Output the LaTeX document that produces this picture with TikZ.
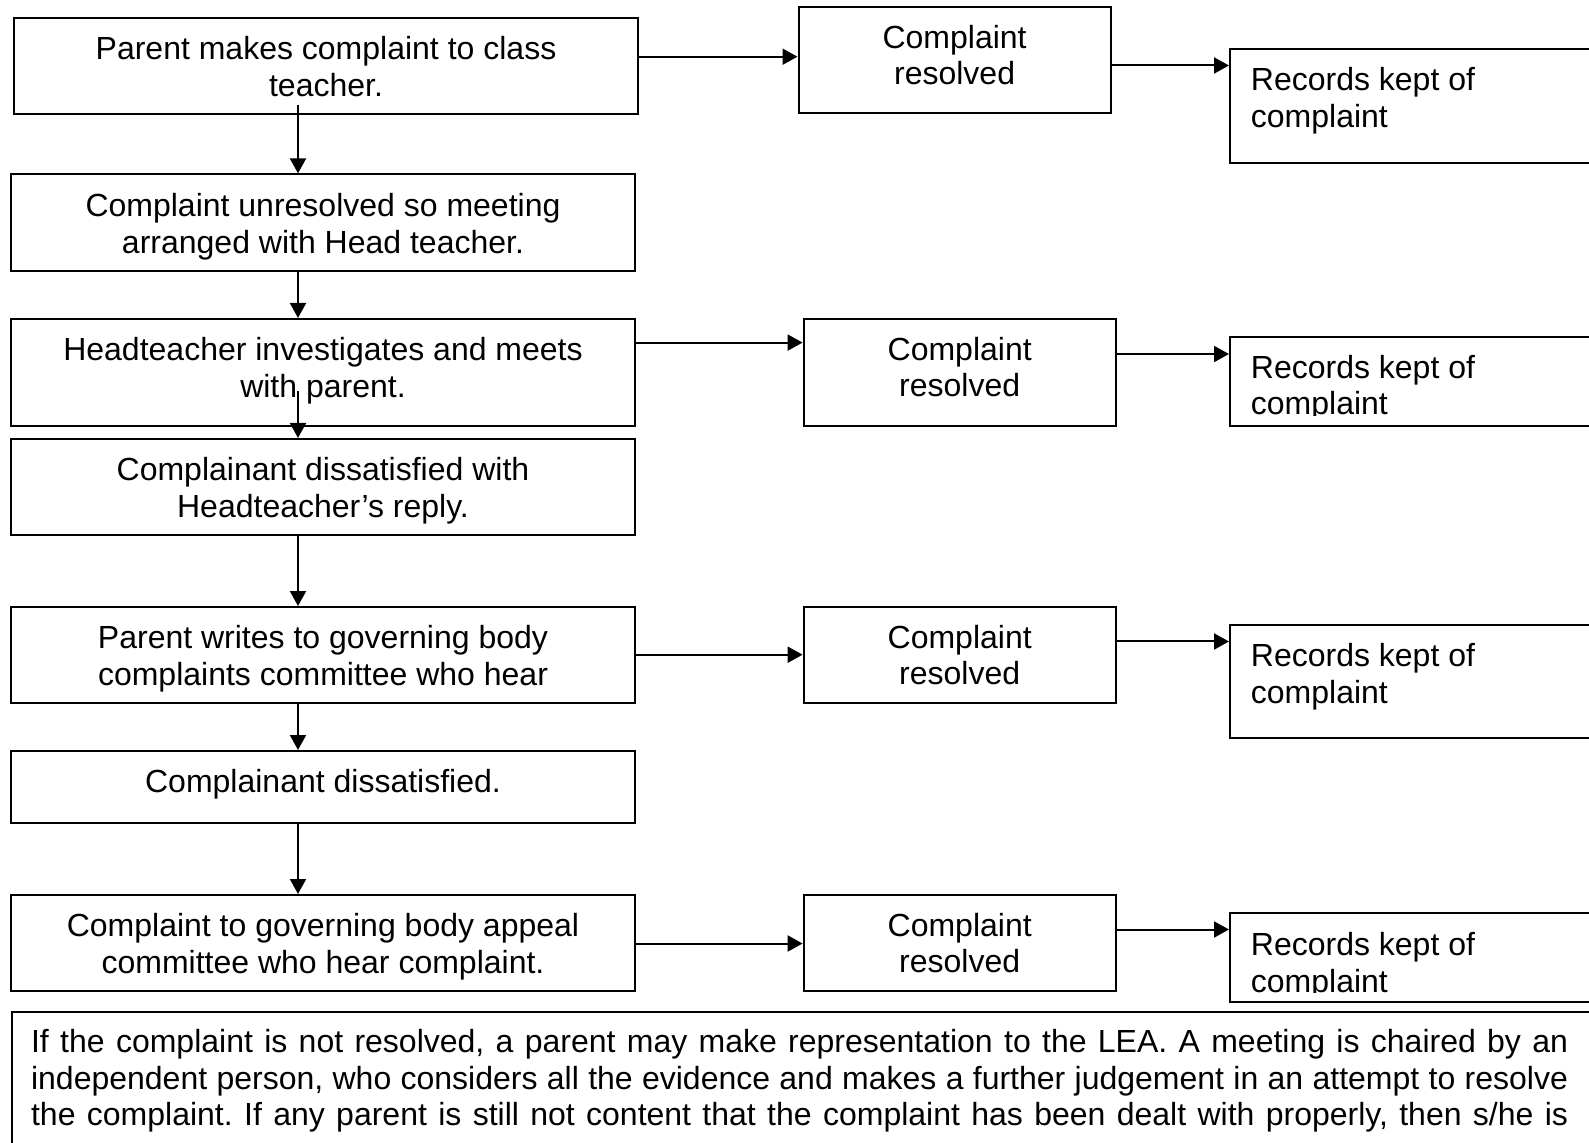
\documentclass[tikz,border=0pt]{standalone}
\usepackage{fontspec}
\setmainfont{Liberation Sans}
\usetikzlibrary{arrows.meta,calc}
\begin{document}
\frenchspacing
\begin{tikzpicture}[x=0.5pt,y=-0.5pt,
  every node/.style={font=\fontsize{16pt}{18.35pt}\selectfont\frenchspacing},
  box/.style={draw, line width=1pt, inner sep=0pt, minimum width=312pt},
  crbox/.style={draw, line width=1pt, inner sep=0pt, minimum width=156.1pt},
  rkbox/.style={draw, line width=1pt, inner sep=0pt, minimum width=185pt},
  txt/.style={inner sep=0pt, anchor=north, align=center},
  rktxt/.style={inner sep=0pt, anchor=north west, align=left},
  arr/.style={line width=1pt, -{Triangle[length=7.5pt,width=8pt]}}
]
\clip (0,0) rectangle (1589,1143);
\fill[white] (0,0) rectangle (1589,1143);

% left column
\node[box, minimum height=47.85pt] (b1) at (326,66.2) {};
\node[box, minimum height=48.15pt] (b2) at (323,222.5) {};
\node[box, minimum height=53.5pt]  (b3) at (323,372.5) {};
\node[box, minimum height=48pt]    (b4) at (323,487) {};
\node[box, minimum height=48.15pt] (b5) at (323,655.2) {};
\node[box, minimum height=36pt]    (b6) at (323,787) {};
\node[box, minimum height=48pt]    (b7) at (323,943) {};

\node[txt] (b1t) at ($(b1.north)+(0,19)$) {Parent makes complaint to class\\teacher.};
\node[txt] (b2t) at ($(b2.north)+(0,19.5)$) {Complaint unresolved so meeting\\arranged with Head teacher.};
\node[txt] (b3t) at ($(b3.north)+(0,19)$) {Headteacher investigates and meets\\with parent.};
\node[txt] (b4t) at ($(b4.north)+(0,19)$) {Complainant dissatisfied with\\Headteacher’s reply.};
\node[txt] (b5t) at ($(b5.north)+(0,19)$) {Parent writes to governing body\\complaints committee who hear};
\node[txt] (b6t) at ($(b6.north)+(0,19)$) {Complainant dissatisfied.};
\node[txt] (b7t) at ($(b7.north)+(0,19)$) {Complaint to governing body appeal\\committee who hear complaint.};

% middle column
\node[crbox, minimum height=53.25pt] (cr1) at (954.6,60.25) {};
\node[crbox, minimum height=53.5pt]  (cr2) at (959.7,372.5) {};
\node[crbox, minimum height=48.15pt] (cr3) at (959.7,655.2) {};
\node[crbox, minimum height=48pt]    (cr4) at (959.7,943) {};
\foreach \c in {cr1,cr2,cr3,cr4}{
  \node[txt] (\c t) at ($(\c.north)+(0,18.5)$) {Complaint\\resolved};
}

% right column
\node[rkbox, minimum height=56.7pt]  (rk1) at (1415,106) {};
\node[rkbox, minimum height=44.65pt] (rk2) at (1415,381.35) {};
\node[rkbox, minimum height=56.4pt]  (rk3) at (1415,681.4) {};
\node[rkbox, minimum height=44.35pt] (rk4) at (1415,957.65) {};

\node[rktxt] (rk1t) at ($(rk1.north west)+(21.5,19)$) {Records kept of\\complaint};
\begin{scope}
  \clip (1231,330) rectangle (1589,416);
  \node[rktxt] (rk2t) at ($(rk2.north west)+(21.5,19)$) {Records kept of\\complaint};
\end{scope}
\node[rktxt] (rk3t) at ($(rk3.north west)+(21.5,19)$) {Records kept of\\complaint};
\begin{scope}
  \clip (1231,905) rectangle (1589,992);
  \node[rktxt] (rk4t) at ($(rk4.north west)+(21.5,19.5)$) {Records kept of\\complaint};
\end{scope}

% bottom note
\node[draw, line width=1pt, inner sep=0pt, minimum width=794.15pt, minimum height=74.15pt] (note) at (805.85,1085.85) {};
\node[inner sep=0pt, anchor=north west, align=left] (notet) at ($(note.north west)+(20,18.3)$)
 {\makebox[768.5pt][s]{If the complaint is not resolved, a parent may make representation to the LEA. A meeting is chaired by an}\\
  \makebox[768.5pt][s]{independent person, who considers all the evidence and makes a further judgement in an attempt to resolve}\\
  \makebox[768.5pt][s]{the complaint. If any parent is still not content that the complaint has been dealt with properly, then s/he is}};

% vertical connectors
\coordinate (vx) at (298,0);
\draw[arr] ($(b1.south -| vx)+(0,-10)$) -- (b2.north -| vx);
\draw[arr] (b2.south -| vx) -- (b3.north -| vx);
\draw[arr] ($(b3.south -| vx)+(0,-36)$) -- (b4.north -| vx);
\draw[arr] (b4.south -| vx) -- (b5.north -| vx);
\draw[arr] (b5.south -| vx) -- (b6.north -| vx);
\draw[arr] (b6.south -| vx) -- (b7.north -| vx);

% horizontal connectors
\coordinate (h1) at (0,56.7);
\coordinate (h2) at (0,65.5);
\coordinate (h3) at (0,342.6);
\coordinate (h4) at (0,354);
\coordinate (h5) at (0,654.7);
\coordinate (h6) at (0,641.5);
\coordinate (h7) at (0,943.5);
\coordinate (h8) at (0,929.5);
\draw[arr] (b1.east |- h1) -- (cr1.west |- h1);
\draw[arr] (cr1.east |- h2) -- (rk1.west |- h2);
\draw[arr] (b3.east |- h3) -- (cr2.west |- h3);
\draw[arr] (cr2.east |- h4) -- (rk2.west |- h4);
\draw[arr] (b5.east |- h5) -- (cr3.west |- h5);
\draw[arr] (cr3.east |- h6) -- (rk3.west |- h6);
\draw[arr] (b7.east |- h7) -- (cr4.west |- h7);
\draw[arr] (cr4.east |- h8) -- (rk4.west |- h8);
\end{tikzpicture}
\end{document}
